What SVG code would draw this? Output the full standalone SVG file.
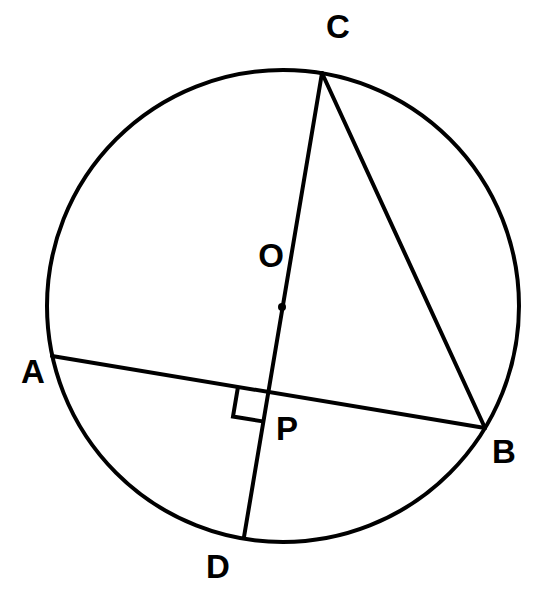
<svg xmlns="http://www.w3.org/2000/svg" width="543" height="591" viewBox="0 0 543 591">
<style>
.ln{stroke:#000;stroke-width:4;fill:none;stroke-linecap:round;stroke-linejoin:miter}
.lb{font-family:"Liberation Sans",Arial,sans-serif;font-weight:bold;font-size:33px;fill:#000;text-anchor:middle}
</style>
<rect width="543" height="591" fill="#fff"/>
<g id="circle"><circle class="ln" cx="283" cy="306" r="236"/></g>
<g id="connectors">
<line class="ln" x1="322" y1="73" x2="244" y2="537"/>
<line class="ln" x1="322" y1="73" x2="485" y2="428"/>
<line class="ln" x1="52" y1="356" x2="485" y2="428"/>
<polyline class="ln" points="238,386.9 233,416.5 262.6,421.4" style="stroke-linecap:butt"/>
</g>
<g id="O"><circle cx="282" cy="307" r="4" fill="#000"/><text class="lb" x="271" y="267">O</text></g>
<g id="C"><text class="lb" x="338" y="38">C</text></g>
<g id="A"><text class="lb" x="33" y="383">A</text></g>
<g id="B"><text class="lb" x="504" y="463">B</text></g>
<g id="D"><text class="lb" x="218" y="578">D</text></g>
<g id="P"><text class="lb" x="287" y="440">P</text></g>
</svg>
